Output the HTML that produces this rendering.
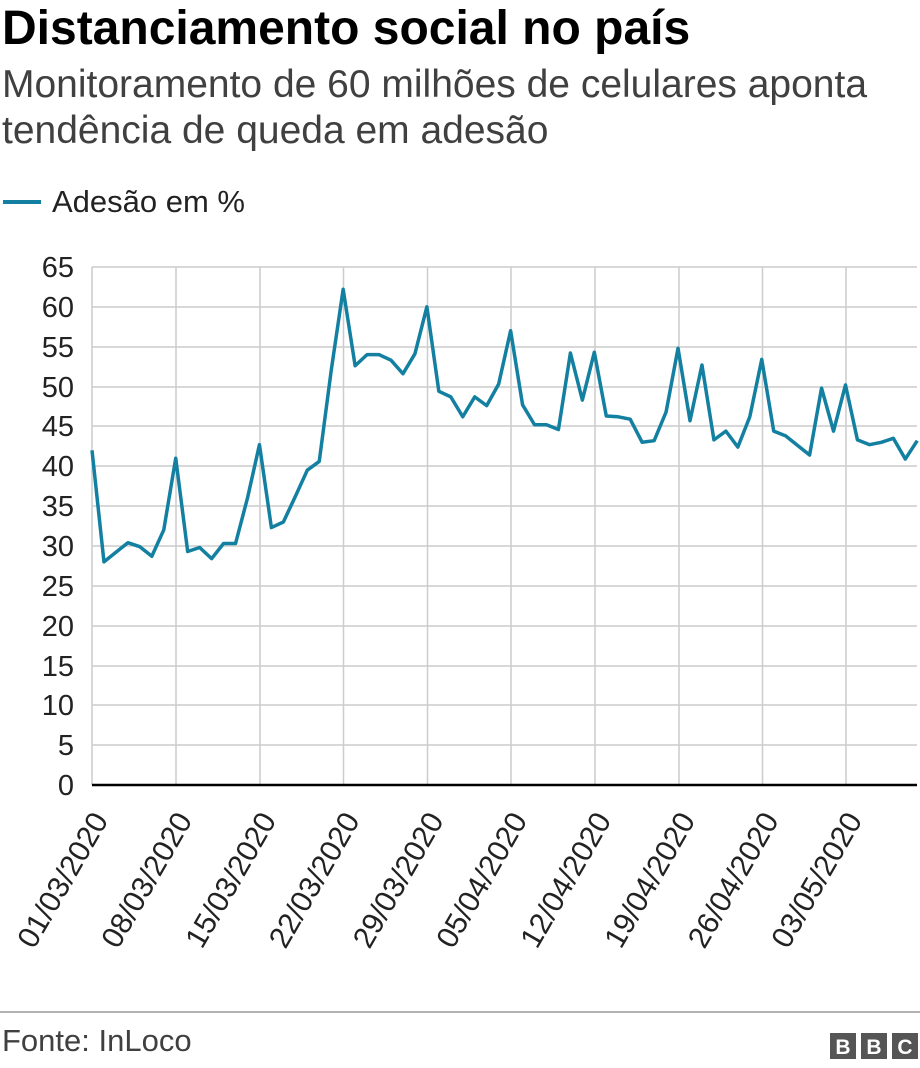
<!DOCTYPE html>
<html><head><meta charset="utf-8"><style>
body{margin:0;width:920px;height:1068px;background:#fff;font-family:"Liberation Sans",Arial,sans-serif;overflow:hidden;position:relative}
.t{position:absolute;left:2px;top:2px;font-size:48px;font-weight:bold;color:#000;line-height:54px}
.s{position:absolute;left:2px;top:62px;font-size:39px;line-height:46px;color:#404040}
</style></head><body>
<div class="t">Distanciamento social no país</div>
<div class="s">Monitoramento de 60 milhões de celulares aponta<br>tendência de queda em adesão</div>
<svg width="920" height="1068" style="position:absolute;left:0;top:0" font-family="Liberation Sans,Arial,sans-serif">
<line x1="3" y1="202" x2="41" y2="202" stroke="#1380A1" stroke-width="4"/>
<text x="52" y="212" font-size="31" fill="#222">Adesão em %</text>
<g stroke="#cccccc" stroke-width="1.5">
<line x1="92" x2="917" y1="267" y2="267"/><line x1="92" x2="917" y1="307" y2="307"/><line x1="92" x2="917" y1="347" y2="347"/><line x1="92" x2="917" y1="387" y2="387"/><line x1="92" x2="917" y1="426" y2="426"/><line x1="92" x2="917" y1="466" y2="466"/><line x1="92" x2="917" y1="506" y2="506"/><line x1="92" x2="917" y1="546" y2="546"/><line x1="92" x2="917" y1="586" y2="586"/><line x1="92" x2="917" y1="626" y2="626"/><line x1="92" x2="917" y1="666" y2="666"/><line x1="92" x2="917" y1="705" y2="705"/><line x1="92" x2="917" y1="745" y2="745"/>
<line x1="92" x2="92" y1="267" y2="785"/><line x1="176" x2="176" y1="267" y2="785"/><line x1="260" x2="260" y1="267" y2="785"/><line x1="343.5" x2="343.5" y1="267" y2="785"/><line x1="427.5" x2="427.5" y1="267" y2="785"/><line x1="511" x2="511" y1="267" y2="785"/><line x1="595" x2="595" y1="267" y2="785"/><line x1="679" x2="679" y1="267" y2="785"/><line x1="762.5" x2="762.5" y1="267" y2="785"/><line x1="846" x2="846" y1="267" y2="785"/>
</g>
<line x1="92" x2="917" y1="785" y2="785" stroke="#000" stroke-width="2.5"/>
<g font-size="29" fill="#222" text-anchor="end">
<text x="74" y="277">65</text><text x="74" y="317">60</text><text x="74" y="357">55</text><text x="74" y="397">50</text><text x="74" y="436">45</text><text x="74" y="476">40</text><text x="74" y="516">35</text><text x="74" y="556">30</text><text x="74" y="596">25</text><text x="74" y="636">20</text><text x="74" y="676">15</text><text x="74" y="715">10</text><text x="74" y="755">5</text><text x="74" y="795">0</text>
</g>
<g font-size="30" fill="#222" text-anchor="end">
<text transform="translate(109,820) rotate(-60)">01/03/2020</text>
<text transform="translate(193,820) rotate(-60)">08/03/2020</text>
<text transform="translate(277,820) rotate(-60)">15/03/2020</text>
<text transform="translate(360.5,820) rotate(-60)">22/03/2020</text>
<text transform="translate(444.5,820) rotate(-60)">29/03/2020</text>
<text transform="translate(528,820) rotate(-60)">05/04/2020</text>
<text transform="translate(612,820) rotate(-60)">12/04/2020</text>
<text transform="translate(696,820) rotate(-60)">19/04/2020</text>
<text transform="translate(779.5,820) rotate(-60)">26/04/2020</text>
<text transform="translate(863,820) rotate(-60)">03/05/2020</text>
</g>
<g transform="translate(92,785) scale(11.96,-7.97)">
<polyline fill="none" stroke="#1380A1" stroke-width="3.5" vector-effect="non-scaling-stroke" stroke-linejoin="round" points="0,42 1,28 2,29.2 3,30.4 4,29.9 5,28.7 6,32 7,41 8,29.3 9,29.8 10,28.4 11,30.3 12,30.3 13,36 14,42.7 15,32.3 16,33 17,36.2 18,39.5 19,40.6 20,52 21,62.2 22,52.6 23,54 24,54 25,53.3 26,51.6 27,54.1 28,60 29,49.4 30,48.7 31,46.2 32,48.7 33,47.6 34,50.3 35,57 36,47.7 37,45.2 38,45.2 39,44.6 40,54.2 41,48.3 42,54.3 43,46.3 44,46.2 45,45.9 46,43 47,43.2 48,46.8 49,54.8 50,45.7 51,52.7 52,43.3 53,44.4 54,42.4 55,46.2 56,53.4 57,44.4 58,43.8 59,42.6 60,41.4 61,49.8 62,44.4 63,50.2 64,43.3 65,42.7 66,43 67,43.5 68,40.9 69,43.2"/>
</g>
<line x1="0" x2="920" y1="1012" y2="1012" stroke="#999" stroke-width="1.5"/>
<text x="2" y="1051" font-size="31" fill="#404040">Fonte: InLoco</text>
<g>
<rect x="830" y="1033" width="26" height="26" fill="#555"/><rect x="861" y="1033" width="26" height="26" fill="#555"/><rect x="892" y="1033" width="26" height="26" fill="#555"/>
<g font-size="21" font-weight="bold" fill="#fff" text-anchor="middle"><text x="843" y="1054">B</text><text x="874" y="1054">B</text><text x="905" y="1054">C</text></g>
</g>
</svg>
</body></html>
